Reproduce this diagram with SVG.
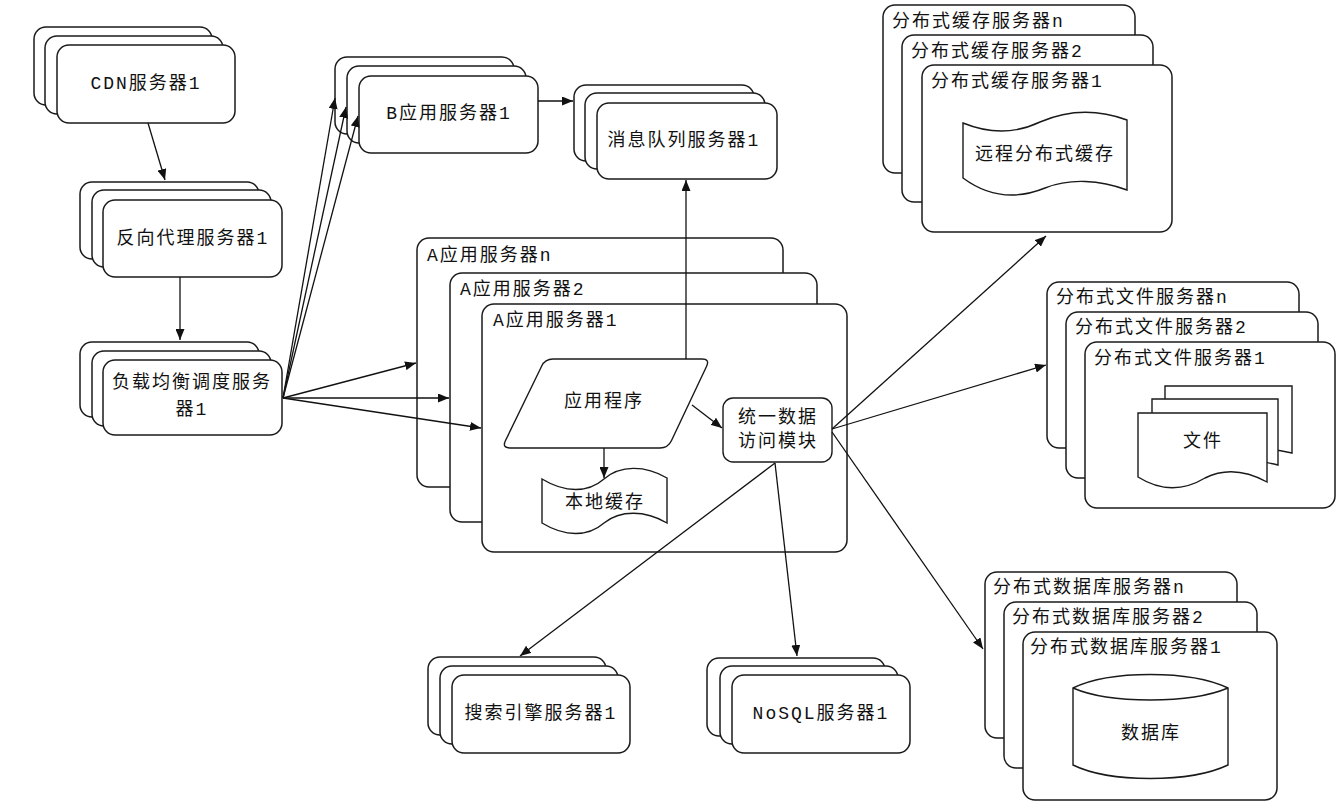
<svg xmlns="http://www.w3.org/2000/svg" width="1337" height="809" viewBox="0 0 1337 809">
<style>
.b{fill:#fff;stroke:#1a1a1a;stroke-width:1.5}
.s{fill:#fff;stroke:#1a1a1a;stroke-width:1.4}
.t{font-family:"Liberation Mono","Noto Sans CJK SC",monospace;font-size:18px;fill:#111;letter-spacing:2px}
.c{text-anchor:middle;dominant-baseline:central}
.l{dominant-baseline:central}
.e{fill:none;stroke:#111;stroke-width:1.3;marker-end:url(#ar)}
</style>
<defs>
<marker id="ar" markerUnits="userSpaceOnUse" markerWidth="11" markerHeight="9" refX="11" refY="4.5" orient="auto">
<path d="M0,0 L11,4.5 L0,9 Z" fill="#111"/>
</marker>
</defs>
<rect width="1337" height="809" fill="#fff"/>

<g id="cdn">
<rect class="b" x="34" y="27" width="178" height="78" rx="12"/>
<rect class="b" x="45" y="36" width="178" height="78" rx="12"/>
<rect class="b" x="57" y="45" width="178" height="78" rx="12"/>
<text class="t c" x="146" y="84">CDN服务器1</text>
</g>
<g id="proxy">
<rect class="b" x="80" y="182" width="179" height="77" rx="12"/>
<rect class="b" x="92" y="190" width="179" height="77" rx="12"/>
<rect class="b" x="103" y="200" width="179" height="77" rx="12"/>
<text class="t c" x="193" y="239">反向代理服务器1</text>
</g>
<g id="lb">
<rect class="b" x="80" y="342" width="179" height="75" rx="12"/>
<rect class="b" x="92" y="351" width="179" height="75" rx="12"/>
<rect class="b" x="103" y="360" width="179" height="75" rx="12"/>
<text class="t c" x="192" y="383">负载均衡调度服务</text>
<text class="t c" x="192" y="410">器1</text>
</g>
<g id="bapp">
<rect class="b" x="335" y="57" width="179" height="77" rx="12"/>
<rect class="b" x="347" y="66" width="179" height="77" rx="12"/>
<rect class="b" x="359" y="76" width="179" height="77" rx="12"/>
<text class="t c" x="449" y="114">B应用服务器1</text>
</g>
<g id="mq">
<rect class="b" x="574" y="85" width="180" height="76" rx="12"/>
<rect class="b" x="585" y="93" width="180" height="76" rx="12"/>
<rect class="b" x="597" y="103" width="180" height="76" rx="12"/>
<text class="t c" x="684" y="141">消息队列服务器1</text>
</g>
<g id="search">
<rect class="b" x="428" y="657" width="178" height="78" rx="12"/>
<rect class="b" x="440" y="666" width="178" height="78" rx="12"/>
<rect class="b" x="452" y="675" width="178" height="78" rx="12"/>
<text class="t c" x="541" y="714">搜索引擎服务器1</text>
</g>
<g id="nosql">
<rect class="b" x="707" y="658" width="178" height="78" rx="12"/>
<rect class="b" x="720" y="666" width="178" height="78" rx="12"/>
<rect class="b" x="732" y="675" width="178" height="78" rx="12"/>
<text class="t c" x="821" y="714">NoSQL服务器1</text>
</g>

<g id="aapp">
<rect class="b" x="417" y="238" width="366" height="249" rx="12"/>
<text class="t l" x="427" y="256">A应用服务器n</text>
<rect class="b" x="450" y="273" width="367" height="249" rx="12"/>
<text class="t l" x="460" y="290">A应用服务器2</text>
<rect class="b" x="482" y="304" width="365" height="248" rx="12"/>
<text class="t l" x="493" y="321">A应用服务器1</text>
<g id="app">
<path class="s" d="M553,359 L702,359 Q710,359 706.6,366.2 L671.4,440.8 Q668,448 660,448 L510,448 Q502,448 505.4,440.8 L541.6,366.2 Q545,359 553,359 Z"/>
<text class="t c" x="604" y="402">应用程序</text>
</g>
<g id="localcache">
<path class="s" d="M542,479 C565,493 588,493 604,479 C620,465 645,465 667,478 L667,523 C645,510 620,510 604,523 C588,537 565,537 542,523 Z"/>
<text class="t c" x="605" y="503">本地缓存</text>
</g>
<g id="dal">
<rect class="s" x="723" y="398" width="109" height="64" rx="10"/>
<text class="t c" x="778" y="418">统一数据</text>
<text class="t c" x="778" y="442">访问模块</text>
</g>
</g>

<g id="cache">
<rect class="b" x="883" y="5" width="252" height="168" rx="12"/>
<text class="t l" x="892" y="22">分布式缓存服务器n</text>
<rect class="b" x="902" y="35" width="251" height="167" rx="12"/>
<text class="t l" x="911" y="52">分布式缓存服务器2</text>
<rect class="b" x="922" y="65" width="250" height="167" rx="12"/>
<text class="t l" x="931" y="82">分布式缓存服务器1</text>
<path class="s" d="M963,123 C990,134 1015,134 1040,122 C1070,109 1100,110 1127,120 L1127,190 C1100,180 1070,178 1045,188 C1018,199 990,198 963,178 Z"/>
<text class="t c" x="1045" y="155">远程分布式缓存</text>
</g>

<g id="file">
<rect class="b" x="1047" y="282" width="252" height="166" rx="12"/>
<text class="t l" x="1056" y="298">分布式文件服务器n</text>
<rect class="b" x="1066" y="312" width="252" height="166" rx="12"/>
<text class="t l" x="1075" y="328">分布式文件服务器2</text>
<rect class="b" x="1085" y="342" width="250" height="166" rx="12"/>
<text class="t l" x="1094" y="359">分布式文件服务器1</text>
<path class="s" d="M1165,386 L1292,386 L1292,453 C1270,448 1250,446 1230,452 L1165,452 Z"/>
<path class="s" d="M1152,399 L1278,399 L1278,465 C1258,460 1238,458 1218,464 L1152,464 Z"/>
<path class="s" d="M1138,413 L1267,413 L1267,482 C1245,470 1225,468 1205,478 C1185,490 1162,492 1138,477 Z"/>
<text class="t c" x="1203" y="442">文件</text>
</g>

<g id="db">
<rect class="b" x="985" y="572" width="252" height="166" rx="12"/>
<text class="t l" x="993" y="588">分布式数据库服务器n</text>
<rect class="b" x="1004" y="602" width="253" height="166" rx="12"/>
<text class="t l" x="1012" y="618">分布式数据库服务器2</text>
<rect class="b" x="1023" y="632" width="254" height="168" rx="12"/>
<text class="t l" x="1030" y="648">分布式数据库服务器1</text>
<path class="s" d="M1073,688 C1110,670 1190,670 1228,688 L1228,765 C1190,783 1110,783 1073,765 Z"/>
<path fill="none" stroke="#1a1a1a" stroke-width="1.4" d="M1073,688 C1110,704 1190,704 1228,688"/>
<text class="t c" x="1151" y="734">数据库</text>
</g>

<g id="connectors">
<line class="e" x1="148" y1="123" x2="165" y2="180"/>
<line class="e" x1="180" y1="277" x2="180" y2="340"/>
<line class="e" x1="283" y1="398" x2="335" y2="98"/>
<line class="e" x1="283" y1="398" x2="346" y2="107"/>
<line class="e" x1="283" y1="398" x2="358" y2="116"/>
<line class="e" x1="283" y1="398" x2="416" y2="363"/>
<line class="e" x1="283" y1="398" x2="449" y2="398"/>
<line class="e" x1="283" y1="398" x2="481" y2="428"/>
<line class="e" x1="538" y1="101" x2="573" y2="101"/>
<line class="e" x1="686" y1="359" x2="686" y2="180"/>
<line class="e" x1="692" y1="405" x2="722" y2="428"/>
<line class="e" x1="604" y1="448" x2="604" y2="478"/>
<line class="e" x1="832" y1="429" x2="1046" y2="236"/>
<line class="e" x1="832" y1="429" x2="1046" y2="365"/>
<line class="e" x1="832" y1="432" x2="983" y2="649"/>
<line class="e" x1="775" y1="463" x2="520" y2="656"/>
<line class="e" x1="775" y1="463" x2="797" y2="656"/>
</g>
</svg>
